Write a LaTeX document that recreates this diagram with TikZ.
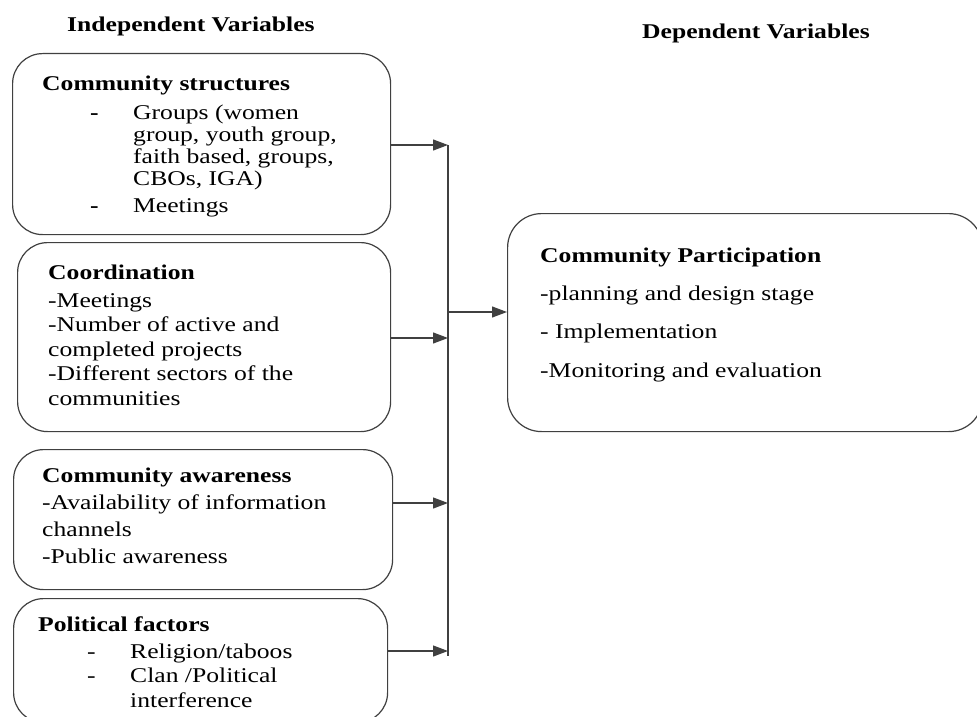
\documentclass[tikz,border=0pt]{standalone}
\usepackage{fontspec}
\setmainfont{Liberation Serif}[FakeStretch=1.22]
\usetikzlibrary{arrows.meta}

\begin{document}
\begin{tikzpicture}[x=1pt, y=-1pt]
        % ================= styles =================
        % (a multi-line txt node sits on the baseline of its last line)
        \tikzset{
            varbox/.style={draw=black!75, line width=1.2pt, rounded corners=30pt, anchor=north west, inner sep=0pt},
            txt/.style={anchor=base west, align=left, inner sep=0pt, font=\fontsize{21}{22}\selectfont},
            head/.style={anchor=base west, inner sep=0pt, font=\fontsize{21}{22}\selectfont\bfseries},
            link/.style={draw=black!75, line width=1.2pt, -{Triangle[length=15pt, width=11pt]}},
            spine/.style={draw=black!75, line width=1.2pt}
        }
        \useasboundingbox (0,0) rectangle (977,717);

        % ================= headings =================
        \node[head] (ind) at (67,32) {Independent Variables};
        \node[head] (dep) at (642,39) {Dependent Variables};

        % ================= left boxes =================
        \node[varbox, minimum width=378pt, minimum height=181pt] (cs) at (12,53) {};
        \node[head] (cs-t) at (42,90) {Community structures};
        \node[txt] (cs-b) at (90,212) {\makebox[43pt][l]{\textbf{-}}Groups (women\\
            \hspace*{43pt}group, youth group,\\
            \hspace*{43pt}faith based, groups,\\
            \hspace*{43pt}CBOs, IGA)\\[5pt]
            \makebox[43pt][l]{\textbf{-}}Meetings};

        \node[varbox, minimum width=373pt, minimum height=189pt] (co) at (17,242) {};
        \node[txt, font=\fontsize{21}{24.4}\selectfont] (co-b) at (48,405) {\textbf{Coordination}\\[4pt]
            -Meetings\\
            -Number of active and\\
            completed projects\\
            -Different sectors of the\\
            communities};

        \node[varbox, minimum width=379pt, minimum height=140pt] (ca) at (13,449) {};
        \node[txt, font=\fontsize{21}{26.7}\selectfont] (ca-b) at (42,563) {\textbf{Community awareness}\\
            -Availability of information\\
            channels\\
            -Public awareness};

        \node[varbox, minimum width=374pt, minimum height=124pt] (pf) at (13,598) {};
        \node[head] (pf-t) at (38,631) {Political factors};
        \node[txt, font=\fontsize{21}{24.5}\selectfont] (pf-b) at (87,707) {\makebox[43pt][l]{-}Religion/taboos\\
            \makebox[43pt][l]{-}Clan /Political\\
            \hspace*{43pt}interference};

        % ================= right box =================
        \node[varbox, minimum width=475pt, minimum height=218pt, rounded corners=34pt] (cp) at (507,213) {};
        \node[txt, font=\fontsize{21}{38.3}\selectfont] (cp-b) at (540,377) {\textbf{Community Participation}\\
            -planning and design stage\\
            - Implementation\\
            -Monitoring and evaluation};

        % ================= connectors =================
        \coordinate (top) at (448,145);
        \coordinate (bot) at (448,656);
        \coordinate (c2) at (448,338);
        \coordinate (c3) at (448,503);
        \coordinate (c4) at (448,651);
        \coordinate (j) at (448,312);

        \draw[spine] (top) -- (bot);
        \draw[link] (top -| cs.east) -- (top);
        \draw[link] (c2 -| co.east) -- (c2);
        \draw[link] (c3 -| ca.east) -- (c3);
        \draw[link] (c4 -| pf.east) -- (c4);
        \draw[link] (j) -- (j -| cp.west);

    \end{tikzpicture}
\end{document}
